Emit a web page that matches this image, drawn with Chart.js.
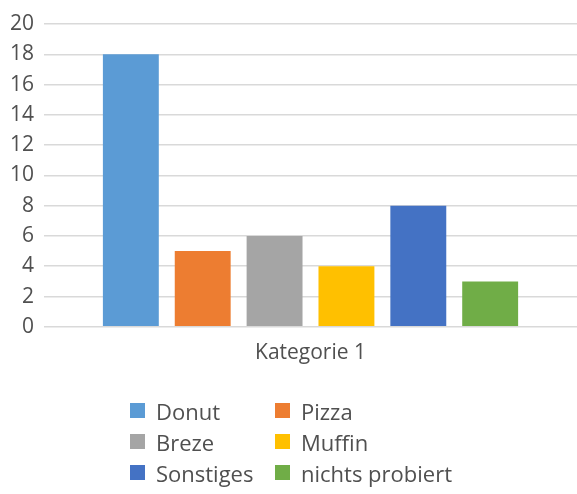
<!DOCTYPE html>
<html>
<head>
<meta charset="utf-8">
<script src="https://cdn.jsdelivr.net/npm/chart.js@4.4.1/dist/chart.umd.min.js"></script>
<style>
  html, body { margin: 0; padding: 0; background: #fff; }
  #wrap { position: relative; width: 577px; height: 494px; }
  #legend {
    position: absolute; left: 130px; top: 395px;
    display: grid; grid-template-columns: 145px auto; row-gap: 0;
    font-family: "Open Sans", sans-serif; font-size: 22px; color: #505050;
  }
  .item { display: flex; align-items: center; height: 31px; }
  .box { width: 15px; height: 15px; margin-right: 11px; }
</style>
</head>
<body>
<div id="wrap">
  <canvas id="c" width="577" height="494"></canvas>
  <div id="legend"></div>
</div>
<script>
const categories = ['Kategorie 1'];
const seriesNames = ['Donut', 'Pizza', 'Breze', 'Muffin', 'Sonstiges', 'nichts probiert'];
const seriesValues = [18, 5, 6, 4, 8, 3];
const colors = ['#5B9BD5', '#ED7D31', '#A5A5A5', '#FFC000', '#4472C4', '#70AD47'];
const yTicks = [0, 2, 4, 6, 8, 10, 12, 14, 16, 18, 20];

const textColor = '#505050';
const font = { family: '"Open Sans", sans-serif', size: 21 };

const datasets = seriesNames.map((name, i) => ({
  label: name,
  data: [seriesValues[i]],
  backgroundColor: colors[i],
  categoryPercentage: 0.809,
  barPercentage: 0.778
}));

new Chart(document.getElementById('c'), {
  type: 'bar',
  data: { labels: categories, datasets: datasets },
  options: {
    responsive: false,
    animation: false,
    layout: { padding: { top: 24, right: 0, bottom: 122, left: 0 } },
    plugins: { legend: { display: false }, tooltip: { enabled: false } },
    scales: {
      x: {
        grid: { display: false },
        border: { display: false },
        ticks: { color: textColor, font: font, padding: 6 }
      },
      y: {
        min: 0,
        max: 20,
        afterBuildTicks: axis => { axis.ticks = yTicks.map(v => ({ value: v })); },
        grid: { color: '#D9D9D9', lineWidth: 1.5, drawTicks: false },
        border: { display: false },
        ticks: { color: textColor, font: font, padding: 10 }
      }
    }
  }
});

const legend = document.getElementById('legend');
seriesNames.forEach((name, i) => {
  const item = document.createElement('div');
  item.className = 'item';
  item.innerHTML = `<span class="box" style="background:${colors[i]}"></span><span>${name}</span>`;
  legend.appendChild(item);
});
</script>
</body>
</html>
